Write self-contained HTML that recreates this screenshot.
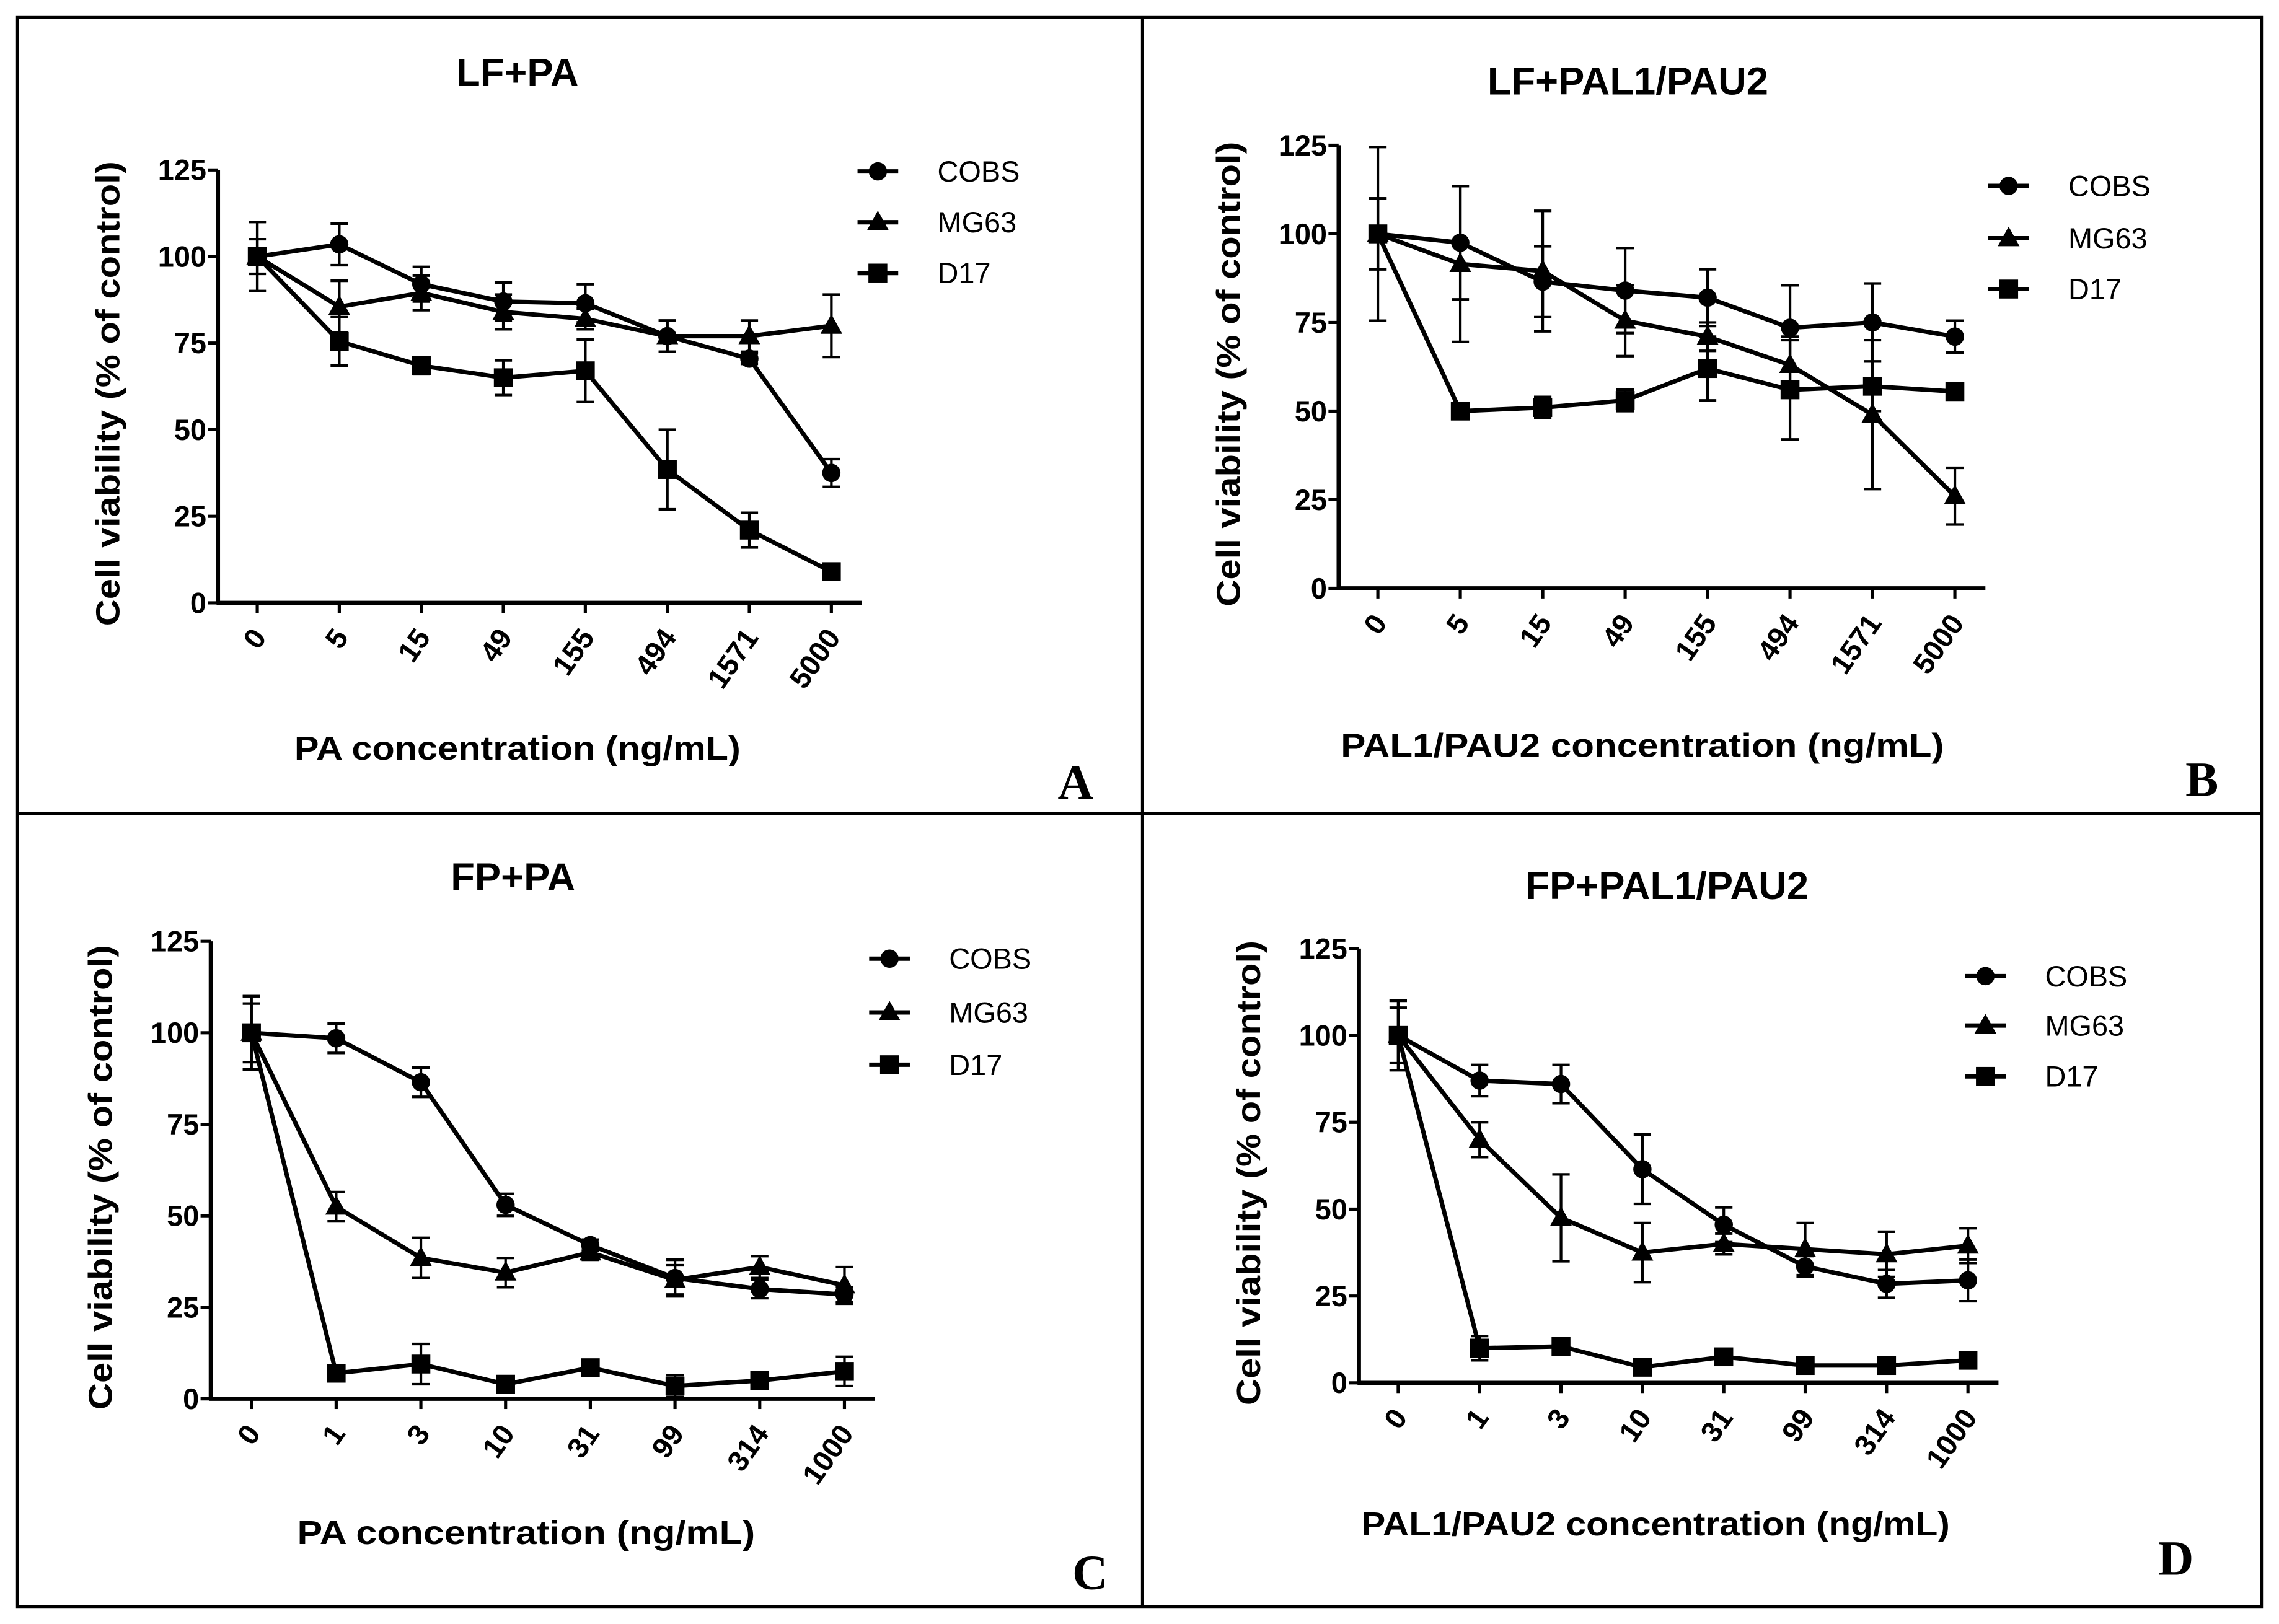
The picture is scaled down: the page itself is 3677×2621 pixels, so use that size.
<!DOCTYPE html>
<html><head><meta charset="utf-8"><style>html,body{margin:0;padding:0;background:#fff}svg{display:block}</style></head>
<body>
<svg id="fig" width="3677" height="2621" viewBox="0 0 1568 1118" preserveAspectRatio="none" xmlns="http://www.w3.org/2000/svg" font-family="Liberation Sans, Arial, sans-serif">
<rect x="0" y="0" width="1568" height="1118" fill="#fff"/>
<rect x="12" y="12" width="1544" height="1094" fill="none" stroke="#000" stroke-width="2"/>
<line x1="786" y1="12" x2="786" y2="1106" stroke="#000" stroke-width="2"/>
<line x1="12" y1="560" x2="1556" y2="560" stroke="#000" stroke-width="2"/>
</svg>
<script>
const seriesNames = ["COBS","MG63","D17"];
const catsA = ["0","5","15","49","155","494","1571","5000"];
const catsC = ["0","1","3","10","31","99","314","1000"];
const yTicks = [0,25,50,75,100,125];
const aCOBS = [100,103.5,92,87,86.5,77,70.5,37.5];
const aCOBSerr = [5,6,5,5.5,5.5,4.5,1.5,4];
const aMG63 = [100,85.5,89.5,84,82,77,77,80];
const aMG63err = [10,7.5,5,5,3,4.5,4.5,9];
const aD17 = [100,75.5,68.5,65,67,38.5,21,9];
const aD17err = [10,7,2.5,5,9,11.5,5,1];
const bCOBS = [100,97.5,86.5,84,82,73.5,75,71];
const bCOBSerr = [10,16,10,12,8,12,11,4.5];
const bMG63 = [100,91.5,89.5,75.5,71,63,49,26];
const bMG63err = [24.5,22,17,10,4,8,21,8];
const bD17 = [100,50,51,53,62,56,57,55.5];
const bD17err = [10,2,3,3,9,14,7,1];
const cCOBS = [100,98.5,86.5,53,42,33,30,28.5];
const cCOBSerr = [10,4,4,3,1.5,5,2.5,2];
const cMG63 = [100,52.5,38.5,34.5,40,32.5,36,31];
const cMG63err = [8,4,5.5,4,2,4,3,5];
const cD17 = [100,7,9.5,4,8.5,3.5,5,7.5];
const cD17err = [10,2,5.5,1.5,1.5,3,2,4];
const dCOBS = [100,87,86,61.5,45.5,33.5,28.5,29.5];
const dCOBSerr = [10,4.5,5.5,10,5,3,4,6];
const dMG63 = [100,70,47.5,37.5,40,38.5,37,39.5];
const dMG63err = [8,5,12.5,8.5,3,7.5,6.5,5];
const dD17 = [100,10,10.5,4.5,7.5,5,5,6.5];
const dD17err = [10,3.5,1.5,1,1,1,1,1];

const NS="http://www.w3.org/2000/svg";
const svg=document.getElementById('fig');
function mk(tag,attrs,parent){const e=document.createElementNS(NS,tag);for(const k in attrs)e.setAttribute(k,attrs[k]);(parent||svg).appendChild(e);return e;}

const panels=[
 {id:'a',title:'LF+PA',xt:'PA concentration (ng/mL)',cats:catsA,letter:'A',ax:150,x0:177,x1:572,xe:593,y0:415,y125:117,tx:356,ty:59,lx:590,ly:[118,153,188],xtx:356,xty:523,xtl:307,ytx:82,lxL:740,lyL:550,
  s:[[aCOBS,aCOBSerr],[aMG63,aMG63err],[aD17,aD17err]]},
 {id:'b',title:'LF+PAL1/PAU2',xt:'PAL1/PAU2 concentration (ng/mL)',cats:catsA,letter:'B',ax:921,x0:948,x1:1345,xe:1366,y0:405,y125:100,tx:1120,ty:65,lx:1368,ly:[128,164,199],xtx:1130,xty:521,xtl:415,ytx:853,lxL:1515,lyL:548,
  s:[[bCOBS,bCOBSerr],[bMG63,bMG63err],[bD17,bD17err]]},
 {id:'c',title:'FP+PA',xt:'PA concentration (ng/mL)',cats:catsC,letter:'C',ax:145,x0:173,x1:581,xe:602,y0:963,y125:648,tx:353,ty:613,lx:598,ly:[660,697,733],xtx:362,xty:1063,xtl:315,ytx:77,lxL:750,lyL:1094,
  s:[[cCOBS,cCOBSerr],[cMG63,cMG63err],[cD17,cD17err]]},
 {id:'d',title:'FP+PAL1/PAU2',xt:'PAL1/PAU2 concentration (ng/mL)',cats:catsC,letter:'D',ax:935,x0:962,x1:1354,xe:1375,y0:952,y125:653,tx:1147,ty:619,lx:1352,ly:[672,706,741],xtx:1139,xty:1057,xtl:405,ytx:867,lxL:1497,lyL:1084,
  s:[[dCOBS,dCOBSerr],[dMG63,dMG63err],[dD17,dD17err]]}
];

function marker(g,kind,x,y,name){
 let e;
 if(kind===0) e=mk('circle',{cx:x,cy:y,r:6.3,fill:'#000'},g);
 else if(kind===1) e=mk('polygon',{points:`${x},${y-8} ${x-7.5},${y+5.5} ${x+7.5},${y+5.5}`,fill:'#000'},g);
 else e=mk('rect',{x:x-6.5,y:y-6.5,width:13,height:13,fill:'#000'},g);
 
 
}

panels.forEach(p=>{
 const g=mk('g',{});
 
 
 const sx=i=>p.x0+(p.x1-p.x0)*i/(p.cats.length-1);
 const sy=v=>p.y0+(p.y125-p.y0)*v/125;
 const t=mk('text',{x:p.tx,y:p.ty,'text-anchor':'middle','font-size':27,'font-weight':'bold'},g);t.textContent=p.title;
 
 
 const ya=mk('line',{x1:p.ax,y1:p.y125,x2:p.ax,y2:p.y0+1,stroke:'#000','stroke-width':2.8},g);
 
 
 const xa=mk('line',{x1:p.ax-1,y1:p.y0,x2:p.xe,y2:p.y0,stroke:'#000','stroke-width':2.8},g);
 
 
 yTicks.forEach(v=>{
  mk('line',{x1:p.ax-7,y1:sy(v),x2:p.ax,y2:sy(v),stroke:'#000','stroke-width':2.2},g);
  const l=mk('text',{x:p.ax-8,y:sy(v)+7,'text-anchor':'end','font-size':20,'font-weight':'bold'},g);l.textContent=v;
  
  
 });
 p.cats.forEach((c,i)=>{
  const x=sx(i);
  mk('line',{x1:x,y1:p.y0,x2:x,y2:p.y0+7,stroke:'#000','stroke-width':2.2},g);
  const l=mk('text',{x:x+7,y:p.y0+24,'text-anchor':'end','font-size':20,'font-weight':'bold',transform:`rotate(-55 ${x+7} ${p.y0+24})`},g);l.textContent=c;
  
  
 });
 const yt=mk('text',{x:0,y:0,'text-anchor':'middle','font-size':23,'font-weight':'bold',transform:`translate(${p.ytx} ${(p.y0+p.y125)/2+5}) rotate(-90)`,textLength:320,lengthAdjust:'spacingAndGlyphs'},g);yt.textContent='Cell viability (% of control)';
 
 
 const xt=mk('text',{x:p.xtx,y:p.xty,'text-anchor':'middle','font-size':23,'font-weight':'bold',textLength:p.xtl,lengthAdjust:'spacingAndGlyphs'},g);xt.textContent=p.xt;
 
 
 const L=mk('text',{x:p.lxL,y:p.lyL,'text-anchor':'middle','font-size':34,'font-weight':'bold','font-family':'Liberation Serif, serif'},g);L.textContent=p.letter;
 
 
 p.s.forEach((s,k)=>{
  const [vals,errs]=s;
  const sg=mk('g',{},g);
  
  
  vals.forEach((v,i)=>{
   const x=sx(i);
   mk('line',{x1:x,y1:sy(v-errs[i]),x2:x,y2:sy(v+errs[i]),stroke:'#000','stroke-width':1.8},sg);
   mk('line',{x1:x-6,y1:sy(v+errs[i]),x2:x+6,y2:sy(v+errs[i]),stroke:'#000','stroke-width':1.8},sg);
   mk('line',{x1:x-6,y1:sy(v-errs[i]),x2:x+6,y2:sy(v-errs[i]),stroke:'#000','stroke-width':1.8},sg);
  });
  mk('polyline',{points:vals.map((v,i)=>sx(i)+','+sy(v)).join(' '),fill:'none',stroke:'#000','stroke-width':3},sg);
  vals.forEach((v,i)=>marker(sg,k,sx(i),sy(v),'point-'+seriesNames[k].toLowerCase()));
  const ly=p.ly[k];
  const lg=mk('g',{},g);
  
  
  mk('line',{x1:p.lx,y1:ly,x2:p.lx+28,y2:ly,stroke:'#000','stroke-width':3},lg);
  marker(lg,k,p.lx+14,ly,'legend-marker');
  const lt=mk('text',{x:p.lx+55,y:ly+7,'font-size':20},lg);lt.textContent=seriesNames[k];
 });
});
</script>
</body></html>
